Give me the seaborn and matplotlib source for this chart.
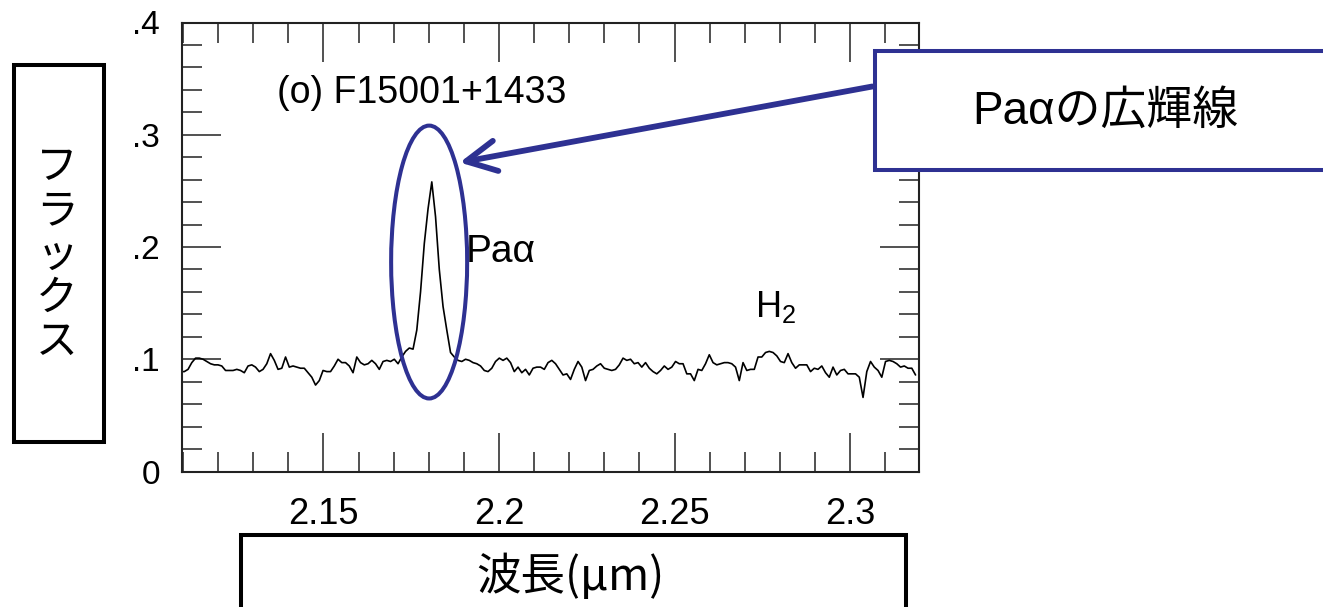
import numpy as np
import pandas as pd
import matplotlib
matplotlib.use("Agg")
import matplotlib.pyplot as plt
from matplotlib.patches import Ellipse, Rectangle
from matplotlib.ticker import FixedLocator, MultipleLocator
import seaborn as sns

# spectrum, four chunks from left to right
flux_a = [0.089, 0.089, 0.091, 0.097, 0.101, 0.101, 0.100, 0.098, 0.096, 0.095,
          0.095, 0.094, 0.090, 0.090, 0.090, 0.091, 0.090, 0.088, 0.094, 0.095,
          0.093, 0.089, 0.091, 0.096, 0.105, 0.099, 0.091, 0.092, 0.102, 0.093,
          0.094, 0.093, 0.092, 0.092, 0.088, 0.084, 0.077, 0.081, 0.090, 0.089,
          0.089, 0.094, 0.100, 0.097, 0.097, 0.094, 0.088, 0.102, 0.097, 0.095,
          0.096]
flux_b = [0.099, 0.096, 0.091, 0.098, 0.099, 0.098, 0.100, 0.096, 0.102, 0.107,
          0.110, 0.109, 0.126, 0.160, 0.203, 0.234, 0.258, 0.227, 0.180, 0.147,
          0.126, 0.106, 0.102, 0.099, 0.098, 0.100, 0.099, 0.097, 0.096, 0.094,
          0.090, 0.089, 0.092, 0.098, 0.101, 0.099, 0.101, 0.097, 0.089, 0.093,
          0.088, 0.091, 0.086, 0.092, 0.093, 0.093, 0.091, 0.097, 0.099, 0.096,
          0.091]
flux_c = [0.086, 0.087, 0.082, 0.091, 0.098, 0.093, 0.081, 0.090, 0.091, 0.094,
          0.096, 0.092, 0.091, 0.090, 0.091, 0.095, 0.101, 0.099, 0.100, 0.096,
          0.097, 0.093, 0.097, 0.092, 0.089, 0.087, 0.090, 0.094, 0.091, 0.093,
          0.098, 0.096, 0.096, 0.087, 0.087, 0.081, 0.091, 0.090, 0.096, 0.104,
          0.097, 0.095, 0.096, 0.097, 0.097, 0.096, 0.093, 0.081, 0.097]
flux_d = [0.090, 0.091, 0.091, 0.102, 0.102, 0.106, 0.107, 0.106, 0.103, 0.098,
          0.097, 0.105, 0.097, 0.092, 0.095, 0.095, 0.095, 0.089, 0.092, 0.091,
          0.094, 0.088, 0.084, 0.093, 0.086, 0.090, 0.091, 0.087, 0.087, 0.087,
          0.084, 0.066, 0.089, 0.098, 0.093, 0.090, 0.084, 0.098, 0.099, 0.098,
          0.096, 0.093, 0.094, 0.092, 0.092, 0.086]
wl_start = 2.1093
wl_step = 0.001068

x_ticks = [2.15, 2.2, 2.25, 2.3]
x_ticklabels = ["2.15", "2.2", "2.25", "2.3"]
y_ticks = [0, 0.1, 0.2, 0.3, 0.4]
y_ticklabels = ["0", ".1", ".2", ".3", ".4"]

title_txt = "(o) F15001+1433"
line_lbl = "Paα"
h2_lbl = "H$_2$"
ylabel_txt = "フラックス"
xlabel_txt = "波長(μm)"
callout_txt = "Paαの広輝線"

flux = np.array(flux_a + flux_b + flux_c + flux_d)
wl = wl_start + wl_step * np.arange(len(flux))
df = pd.DataFrame({"wl": wl, "flux": flux})

sns.set_style("ticks")
plt.rcParams["font.family"] = ["Liberation Sans", "Noto Sans CJK JP"]
plt.rcParams["text.color"] = "black"
plt.rcParams["xtick.color"] = "black"
plt.rcParams["ytick.color"] = "black"
plt.rcParams["mathtext.fontset"] = "custom"
plt.rcParams["mathtext.rm"] = "Liberation Sans"
plt.rcParams["mathtext.default"] = "regular"

W, H = 1323, 607
navy = "#2e3192"
jp = ["Noto Sans CJK JP", "DejaVu Sans"]


def fx(px):
    return px / W


def fy(py):
    return 1 - py / H


fig = plt.figure(figsize=(W / 100, H / 100), dpi=100)
ax = fig.add_axes([fx(182.3), fy(471.5), fx(919.3) - fx(182.3), fy(22.5) - fy(471.5)])

sns.lineplot(data=df, x="wl", y="flux", color="black", lw=1.2, ax=ax)

ax.set_xlim(2.1098, 2.3197)
ax.set_ylim(0, 0.4)
ax.xaxis.set_major_locator(FixedLocator(x_ticks))
ax.set_xticklabels(x_ticklabels)
ax.xaxis.set_minor_locator(MultipleLocator(0.01))
ax.yaxis.set_major_locator(FixedLocator(y_ticks))
ax.set_yticklabels(y_ticklabels)
ax.yaxis.set_minor_locator(MultipleLocator(0.02))
ax.set_xlabel("")
ax.set_ylabel("")

ax.tick_params(which="both", direction="in", top=True, right=True, color="#222222", width=1.1)
ax.tick_params(which="major", length=28)
ax.tick_params(which="minor", length=14.5)
ax.tick_params(axis="y", pad=16, labelsize=24)
ax.tick_params(axis="x", pad=18, labelsize=26)
for s in ax.spines.values():
    s.set_visible(True)
    s.set_linewidth(1.5)
    s.set_color("#222222")

# in-plot labels
ax.text(2.1367, 0.328, title_txt, fontsize=27, ha="left", va="baseline")
ax.text(2.1905, 0.1864, line_lbl, fontsize=28, ha="left", va="baseline")
ax.text(2.273, 0.1374, h2_lbl, fontsize=26, ha="left", va="baseline")

# ellipse round the broad line
ax.add_patch(Ellipse((2.1801, 0.1866), 0.02165, 0.2431, fill=False,
                     edgecolor=navy, lw=2.9, zorder=5, clip_on=False))

# arrow from callout box to the ellipse
ax.annotate("", xy=(457, H - 163), xycoords="figure pixels",
            xytext=(875, H - 86), textcoords="figure pixels",
            arrowprops=dict(arrowstyle="->,head_length=1.08,head_width=0.55",
                            mutation_scale=20, lw=4.2, color=navy))

# boxes round the axis titles and the callout
fig.add_artist(Rectangle((fx(13.7), fy(442)), fx(104) - fx(13.7), fy(65.3) - fy(442),
                         transform=fig.transFigure, fill=False, edgecolor="black", lw=2.9))
fig.text(fx(57), fy(255), "\n".join(ylabel_txt), ha="center", va="center",
         fontsize=30, linespacing=1.08, family=jp)

fig.add_artist(Rectangle((fx(240.8), fy(620)), fx(905.5) - fx(240.8), fy(535) - fy(620),
                         transform=fig.transFigure, fill=False, edgecolor="black", lw=2.9))
fig.text(fx(570), fy(577), xlabel_txt, ha="center", va="center", fontsize=32, family=jp)

fig.add_artist(Rectangle((fx(875), fy(170)), fx(1340) - fx(875), fy(51) - fy(170),
                         transform=fig.transFigure, facecolor="white", edgecolor=navy, lw=2.9))
fig.text(fx(1105), fy(112), callout_txt, ha="center", va="center", fontsize=33,
         family=["Liberation Sans", "Noto Sans CJK JP"])

fig.savefig("out.png", dpi=100)
